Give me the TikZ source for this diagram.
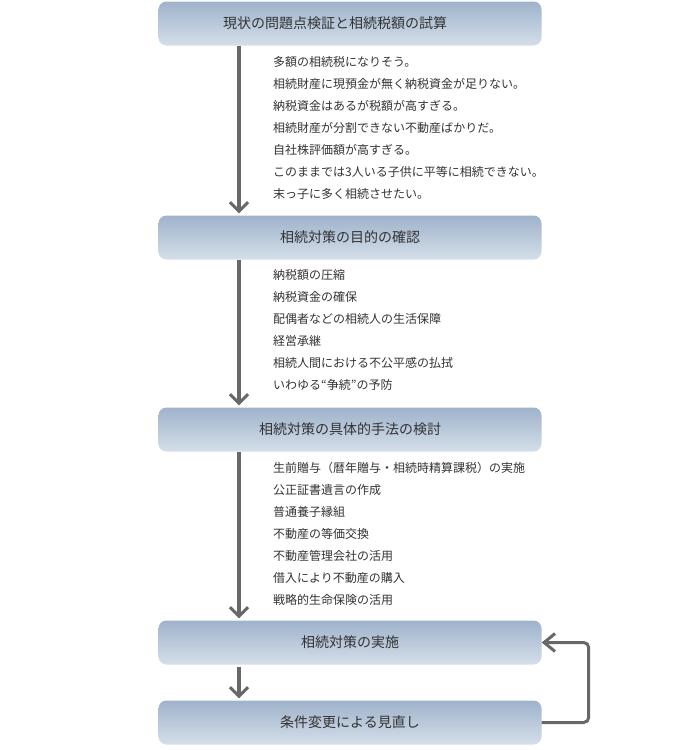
\documentclass[tikz,border=0pt]{standalone}
\usepackage{fontspec}
\setmainfont{Noto Sans CJK JP}
\usetikzlibrary{arrows.meta}
\definecolor{boxtop}{HTML}{9FB3CB}
\definecolor{boxbot}{HTML}{D4DEE9}
\definecolor{flowgray}{HTML}{686868}
\definecolor{textgray}{HTML}{333333}

\begin{document}
\begin{tikzpicture}[x=1pt, y=-1pt,
  stepbox/.style={minimum width=383pt, minimum height=44pt, inner sep=0pt,
    rounded corners=8pt, top color=boxtop, bottom color=boxbot,
    text=textgray, font=\fontsize{14}{16}\selectfont},
  item/.style={anchor=west, inner sep=0pt, text=textgray,
    font=\fontsize{12}{14}\selectfont},
  flow/.style={draw=flowgray, line width=4pt,
    -{Straight Barb[length=9pt, width=18pt, line width=3pt]}},
  back/.style={draw=flowgray, line width=3pt, rounded corners=5pt,
    -{Straight Barb[length=11pt, width=18pt, line width=3pt]}}]
  \useasboundingbox (0,0) rectangle (700,750);

  % main steps
  \node[stepbox] (b1) at (350,23.5) {現状の問題点検証と相続税額の試算\hspace*{30pt}};
  \node[stepbox] (b2) at (350,237.5) {相続対策の目的の確認};
  \node[stepbox] (b3) at (350,429.5) {相続対策の具体的手法の検討};
  \node[stepbox] (b4) at (350,642.5) {相続対策の実施};
  \node[stepbox] (b5) at (350,722.5) {条件変更による見直し};

  % items under each step
  \foreach \t [count=\i] in {多額の相続税になりそう。,
      相続財産に現預金が無く納税資金が足りない。,
      納税資金はあるが税額が高すぎる。,
      相続財産が分割できない不動産ばかりだ。,
      自社株評価額が高すぎる。,
      このままでは3人いる子供に平等に相続できない。,
      末っ子に多く相続させたい。}
    \node[item] (p-\i) at (273, 61.5+22*\i-22) {\t};
  \foreach \t [count=\i] in {納税額の圧縮,
      納税資金の確保,
      配偶者などの相続人の生活保障,
      経営承継,
      相続人間における不公平感の払拭,
      いわゆる“争続”の予防}
    \node[item] (q-\i) at (273, 275+22*\i-22) {\t};
  \foreach \t [count=\i] in {生前贈与（暦年贈与・相続時精算課税）の実施,
      公正証書遺言の作成,
      普通養子縁組,
      不動産の等価交換,
      不動産管理会社の活用,
      借入により不動産の購入,
      戦略的生命保険の活用}
    \node[item] (r-\i) at (273, 468+22*\i-22) {\t};

  % arrows
  \draw[flow] ([xshift=-111pt]b1.south) -- ([xshift=-111pt, yshift=2pt]b2.north);
  \draw[flow] ([xshift=-111pt]b2.south) -- ([xshift=-111pt, yshift=2pt]b3.north);
  \draw[flow] ([xshift=-111pt]b3.south) -- ([xshift=-111pt, yshift=2pt]b4.north);
  \draw[flow] ([xshift=-111pt, yshift=-2pt]b4.south) -- ([xshift=-111pt, yshift=2pt]b5.north);
  \draw[back] (b5.east) -- ++(47,0) |- (b4.east);
\end{tikzpicture}
\end{document}
